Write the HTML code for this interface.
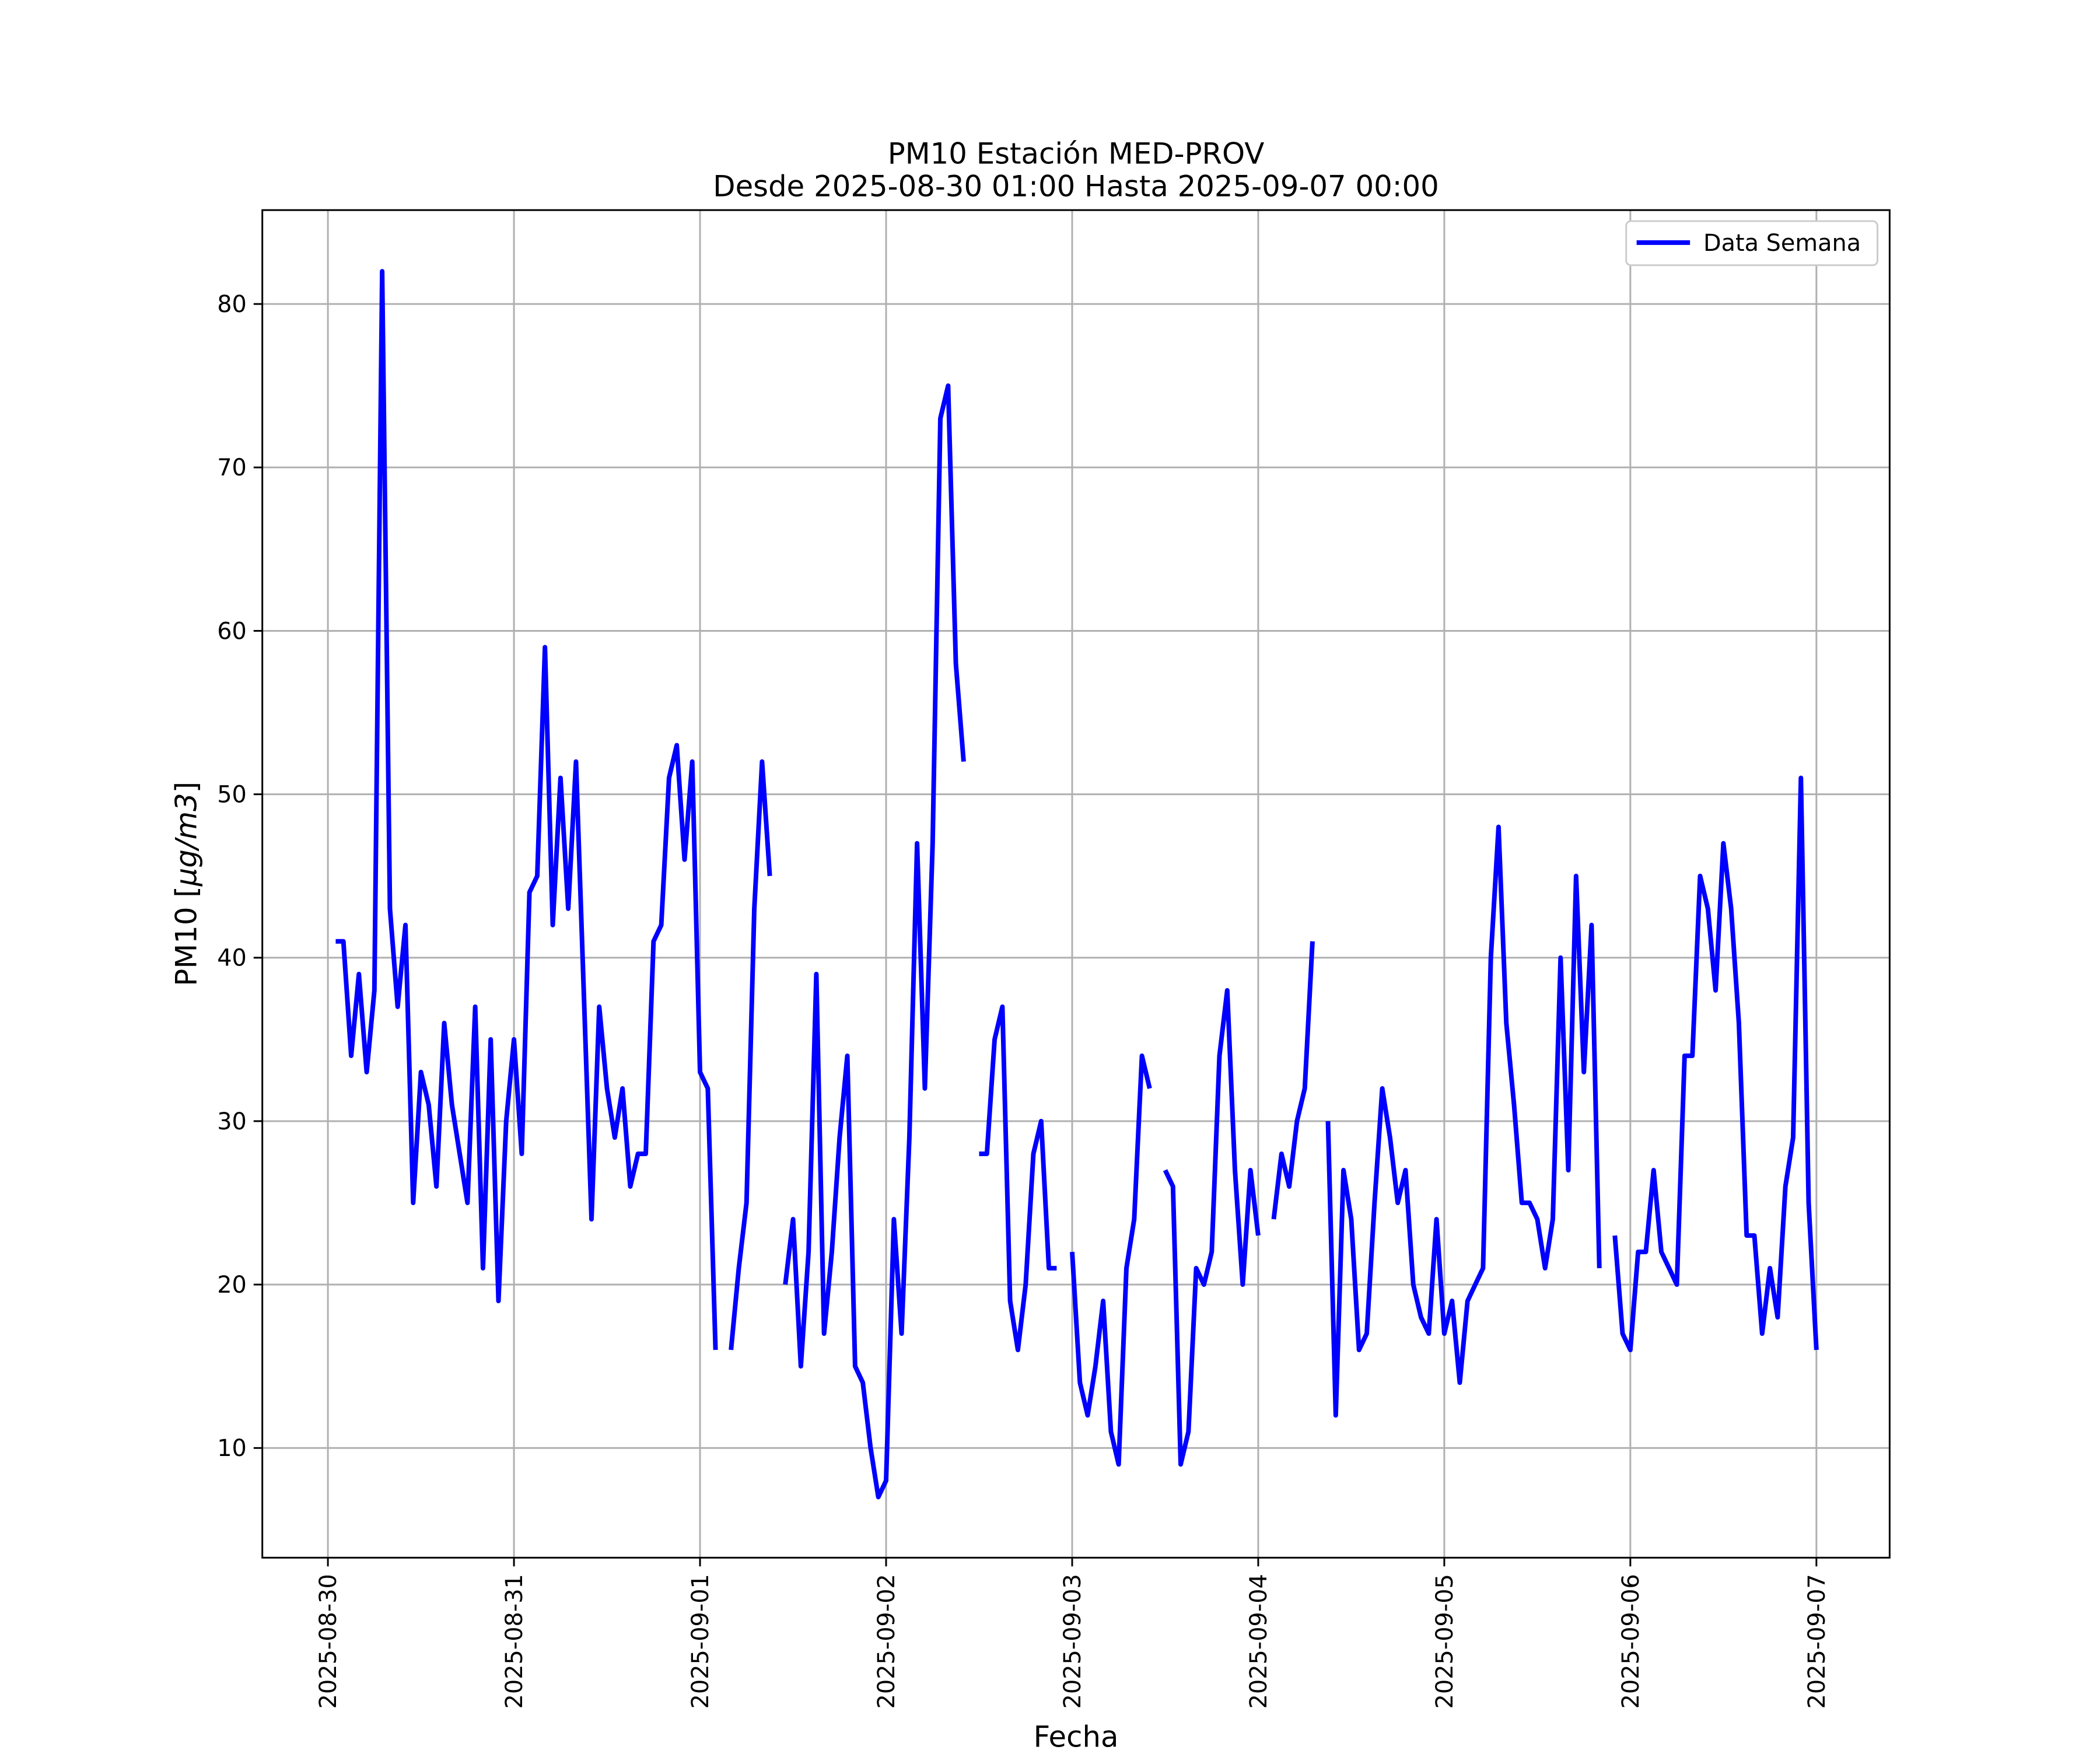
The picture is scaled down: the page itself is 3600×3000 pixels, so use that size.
<!DOCTYPE html>
<html><head><meta charset="utf-8"><style>
html,body{margin:0;padding:0;background:#fff}
svg{display:block;font-family:"DejaVu Sans","Liberation Sans",sans-serif}
</style></head><body>
<svg id="chart" width="3600" height="3000" viewBox="0 0 3600 3000" xmlns="http://www.w3.org/2000/svg">
<rect width="3600" height="3000" fill="#fff"/>
<g transform="scale(0.9949)">
<g id="grid"></g>
<g id="series"></g>
<rect x="452" y="362" width="2804" height="2322" fill="none" stroke="#000" stroke-width="3"/>
<g id="ticks"></g>
<text x="1854" y="282" font-size="50" text-anchor="middle">PM10 Estación MED-PROV</text>
<text x="1854" y="338" font-size="50" text-anchor="middle">Desde 2025-08-30 01:00 Hasta 2025-09-07 00:00</text>
<text transform="translate(338,1523) rotate(-90)" font-size="50" text-anchor="middle">PM10 [<tspan font-style="italic">μg/m3</tspan>]</text>
<text x="1854" y="3010" font-size="50" text-anchor="middle">Fecha</text>
<g>
<rect x="2802" y="381" width="433" height="76" rx="8" fill="#fff" stroke="#ccc" stroke-width="3"/>
<line x1="2820" y1="418" x2="2912" y2="418" stroke="#0000ff" stroke-width="8"/>
<text x="2935" y="432" font-size="40">Data Semana</text>
</g>
</g>
</svg>
<script>
const startHour = 1;
const pm10Values = [41,41,34,39,33,38,82,43,37,42,25,33,31,26,36,31,28,25,37,21,35,19,30,35,28,44,45,59,42,51,43,52,38,24,37,32,29,32,26,28,28,41,42,51,53,46,52,33,32,16,null,16,21,25,43,52,45,null,20,24,15,22,39,17,22,29,34,15,14,10,7,8,24,17,29,47,32,47,73,75,58,52,null,28,28,35,37,19,16,20,28,30,21,21,null,22,14,12,15,19,11,9,21,24,34,32,null,27,26,9,11,21,20,22,34,38,27,20,27,23,null,24,28,26,30,32,41,null,30,12,27,24,16,17,25,32,29,25,27,20,18,17,24,17,19,14,19,20,21,40,48,36,31,25,25,24,21,24,40,27,45,33,42,21,null,23,17,16,22,22,27,22,21,20,34,34,45,43,38,47,43,36,23,23,17,21,18,26,29,51,25,16];
const yTicks = [10,20,30,40,50,60,70,80];
const xTickLabels = ["2025-08-30","2025-08-31","2025-09-01","2025-09-02","2025-09-03","2025-09-04","2025-09-05","2025-09-06","2025-09-07"];

const NS = "http://www.w3.org/2000/svg";
const X0 = 565, DAY = 320.6, Y10 = 2495, UNIT = 28.16;
function xScale(hour){ return X0 + hour * DAY / 24; }
function yScale(v){ return Y10 - (v - 10) * UNIT; }
function mk(tag, attrs, parent){ const e = document.createElementNS(NS, tag); for (const k in attrs) e.setAttribute(k, attrs[k]); parent.appendChild(e); return e; }

const grid = document.getElementById('grid'), ticks = document.getElementById('ticks'), series = document.getElementById('series');

yTicks.forEach(v => {
  const y = yScale(v);
  const g = mk('line', {x1:452, x2:3256, y1:y, y2:y, stroke:'#b0b0b0', 'stroke-width':3}, grid);
  
  
  const t = mk('line', {x1:437, x2:452, y1:y, y2:y, stroke:'#000', 'stroke-width':3}, ticks);
  
  
  const l = mk('text', {x:425, y:y+14, 'font-size':40, 'text-anchor':'end'}, ticks);
  l.textContent = v;
  
  
});

xTickLabels.forEach((lab, i) => {
  const x = xScale(i * 24);
  const g = mk('line', {x1:x, x2:x, y1:362, y2:2684, stroke:'#b0b0b0', 'stroke-width':3}, grid);
  
  
  const t = mk('line', {x1:x, x2:x, y1:2684, y2:2699, stroke:'#000', 'stroke-width':3}, ticks);
  
  
  const l = mk('text', {transform:`translate(${x+14},2712) rotate(-90)`, 'font-size':40, 'text-anchor':'end'}, ticks);
  l.textContent = lab;
  
  
});

let d = '', pen = false;
pm10Values.forEach((v, i) => {
  if (v === null) { pen = false; return; }
  const x = xScale(startHour + i), y = yScale(v);
  d += (pen ? 'L' : 'M') + x.toFixed(1) + ',' + y.toFixed(1) + ' ';
  pen = true;
});
const path = mk('path', {d:d, fill:'none', stroke:'#0000ff', 'stroke-width':8, 'stroke-linejoin':'round'}, series);


</script>
</body></html>
